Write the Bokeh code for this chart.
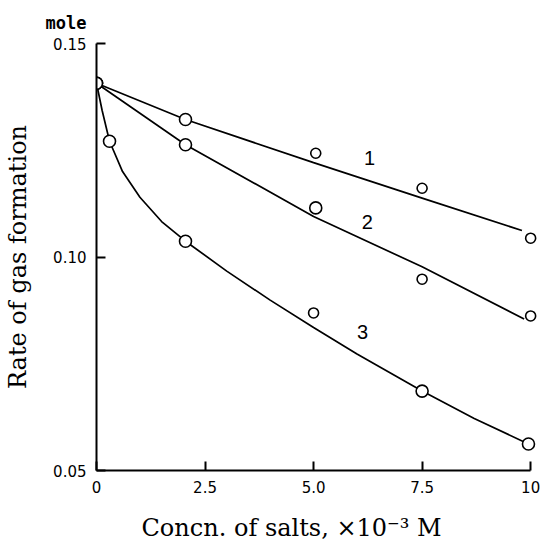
from bokeh.plotting import figure
from bokeh.models import Label, FixedTicker, Range1d, Title
from bokeh.embed import file_html
from bokeh.resources import INLINE

# ---- data ----
# measured points (concentration x10^-3 M, rate in mole)
conc_1 = [0.0, 2.05, 5.05, 7.5, 10.0]
rate_1 = [0.1407, 0.1322, 0.1243, 0.1161, 0.1044]
conc_2 = [0.0, 2.05, 5.05, 7.5, 10.0]
rate_2 = [0.1407, 0.1263, 0.1115, 0.0948, 0.0862]
conc_3 = [0.0, 0.3, 2.05, 5.0, 7.5, 9.95]
rate_3 = [0.1407, 0.1271, 0.1037, 0.0869, 0.0686, 0.0562]

# drawn (fitted) curves
fit1_x = [0.0, 2.05, 5.0, 7.5, 9.8]
fit1_y = [0.1407, 0.1322, 0.1221, 0.1138, 0.1062]
fit2_x = [0.0, 2.05, 5.0, 7.5, 9.85]
fit2_y = [0.1407, 0.1263, 0.1095, 0.0977, 0.0855]
fit3_x = [0.0, 0.13, 0.3, 0.6, 1.0, 1.5, 2.05, 3.0, 4.0, 5.0, 6.0, 7.5, 8.7, 9.95]
fit3_y = [0.1407, 0.1343, 0.1271, 0.1200, 0.1140, 0.1083, 0.1037, 0.0967,
          0.0899, 0.0835, 0.0773, 0.0686, 0.0622, 0.0562]

curve_names = ["1", "2", "3"]
curve_label_x = [6.29, 6.24, 6.13]
curve_label_y = [0.1233, 0.1081, 0.0824]

x_ticks = [0, 2.5, 5.0, 7.5, 10]
x_tick_labels = ["0", "2.5", "5.0", "7.5", "10"]
y_ticks = [0.05, 0.10, 0.15]
y_tick_labels = ["0.05", "0.10", "0.15"]
y_unit = "mole"
x_title = "Concn.  of  salts,  \u00d710\u207b\u00b3  M"
y_title = "Rate of gas formation"

# ---- styles ----
size_1 = [12, 12, 10, 10, 10]
size_2 = [12, 12, 12, 10, 10]
size_3 = [12, 12, 12, 10, 12, 12]

p = figure(frame_width=445, frame_height=427,
           x_range=Range1d(0, 10.25), y_range=Range1d(0.05, 0.15),
           output_backend="svg", toolbar_location=None,
           min_border_left=96, min_border_right=0,
           min_border_top=43, min_border_bottom=75)
p.outline_line_color = None
p.xgrid.visible = False
p.ygrid.visible = False
p.background_fill_color = "white"

p.title = Title(text=y_unit, align="left", offset=-51, standoff=21,
                text_font="DejaVu Sans Mono", text_font_size="17px",
                text_font_style="bold", text_color="black")

for ax in (p.xaxis[0], p.yaxis[0]):
    ax.axis_line_width = 2
    ax.axis_line_color = "black"
    ax.major_tick_line_width = 2
    ax.major_tick_line_color = "black"
    ax.major_tick_in = 9
    ax.major_tick_out = 0
    ax.minor_tick_line_color = None
    ax.major_label_text_font = "DejaVu Sans"
    ax.major_label_text_font_size = "15px"
    ax.major_label_text_color = "black"
    ax.axis_label_text_font = "DejaVu Serif"
    ax.axis_label_text_font_size = "24px"
    ax.axis_label_text_font_style = "normal"
    ax.axis_label_text_color = "black"

p.xaxis.ticker = FixedTicker(ticks=x_ticks)
p.xaxis.major_label_overrides = {t: l for t, l in zip(x_ticks, x_tick_labels)}
p.xaxis.bounds = (0, 10)
p.xaxis.major_label_standoff = 10

p.add_layout(Title(text=x_title, align="left", offset=45, standoff=32,
                   text_font="DejaVu Serif", text_font_size="24px",
                   text_font_style="normal", text_color="black"), "below")

p.yaxis.ticker = FixedTicker(ticks=y_ticks)
p.yaxis.major_label_overrides = {t: l for t, l in zip(y_ticks, y_tick_labels)}
p.yaxis.major_label_standoff = 10
p.yaxis.axis_label = y_title
p.yaxis.axis_label_standoff = 18

for fx, fy in ((fit1_x, fit1_y), (fit2_x, fit2_y), (fit3_x, fit3_y)):
    p.line(fx, fy, line_color="black", line_width=1.7)

for cx, cy, sz in ((conc_1, rate_1, size_1), (conc_2, rate_2, size_2), (conc_3, rate_3, size_3)):
    p.scatter(cx, cy, marker="circle", size=sz, fill_color="white",
              line_color="black", line_width=1.6)

for name, lx, ly in zip(curve_names, curve_label_x, curve_label_y):
    p.add_layout(Label(x=lx, y=ly, text=name, text_align="center",
                       text_baseline="middle", text_font="Liberation Sans",
                       text_font_size="20px", text_color="black"))

open("out.html", "w").write(file_html(p, INLINE))
